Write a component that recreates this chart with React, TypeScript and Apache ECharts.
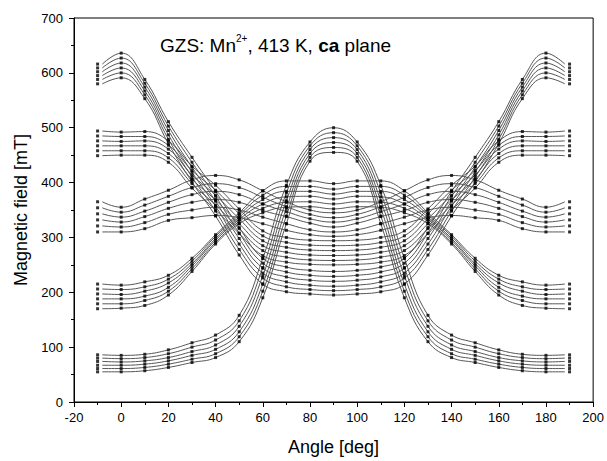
import React, { useEffect, useRef } from 'react';
import * as echarts from 'echarts';

// Line nodes (fitted curves) and measured points (dots) share value arrays by index.
const lineAngles = [-8, 0, 10, 20, 30, 40, 50, 60, 70, 80, 90, 100, 110, 120, 130, 140, 150, 160, 170, 180, 188];
const dotAngles = [-10, 0, 10, 20, 30, 40, 50, 60, 70, 80, 90, 100, 110, 120, 130, 140, 150, 160, 170, 180, 190];

const groupA = [
  [616, 636, 588, 511, 446, 384, 318, 262, 246, 240, 238, 240, 246, 262, 318, 384, 446, 511, 588, 636, 616],
  [609, 627, 581, 503, 437, 375, 308, 253, 237, 231, 229, 231, 237, 253, 308, 375, 437, 503, 581, 627, 609],
  [602, 618, 574, 495, 428, 366, 298, 244, 228, 222, 220, 222, 228, 244, 298, 366, 428, 495, 574, 618, 602],
  [595, 609, 567, 487, 419, 357, 288, 235, 219, 213, 211, 213, 219, 235, 288, 357, 419, 487, 567, 609, 595],
  [588, 600, 560, 479, 410, 348, 278, 226, 210, 205, 203, 205, 210, 226, 278, 348, 410, 479, 560, 600, 588],
  [580, 591, 553, 471, 401, 339, 268, 215, 201, 197, 195, 197, 201, 215, 268, 339, 401, 471, 553, 591, 580],
];
const groupB = [
  [494, 492, 493, 476, 430, 395, 352, 312, 300, 295, 294, 295, 300, 312, 352, 395, 430, 476, 493, 492, 494],
  [485, 484, 484, 468, 422, 386, 343, 303, 291, 286, 285, 286, 291, 303, 343, 386, 422, 468, 484, 484, 485],
  [476, 475, 476, 461, 414, 377, 334, 294, 282, 277, 276, 277, 282, 294, 334, 377, 414, 461, 476, 475, 476],
  [467, 467, 467, 453, 406, 368, 325, 285, 273, 268, 267, 268, 273, 285, 325, 368, 406, 453, 467, 467, 467],
  [458, 458, 458, 445, 398, 359, 316, 276, 264, 259, 258, 259, 264, 276, 316, 359, 398, 445, 458, 458, 458],
  [449, 450, 450, 437, 390, 350, 307, 267, 255, 251, 250, 251, 255, 267, 307, 350, 390, 437, 450, 450, 449],
];
const groupC = [
  [365, 355, 370, 386, 405, 413, 405, 385, 365, 350, 345, 350, 365, 385, 405, 413, 405, 386, 370, 355, 365],
  [354, 346, 359, 375, 391, 398, 391, 373, 356, 342, 336, 342, 356, 373, 391, 398, 391, 375, 359, 346, 354],
  [343, 337, 348, 364, 378, 384, 378, 361, 347, 334, 328, 334, 347, 361, 378, 384, 378, 364, 348, 337, 343],
  [332, 328, 338, 353, 364, 369, 364, 349, 338, 326, 319, 326, 338, 349, 364, 369, 364, 353, 338, 328, 332],
  [321, 319, 327, 342, 350, 355, 350, 337, 325, 314, 310, 314, 325, 337, 350, 355, 350, 342, 327, 319, 321],
  [310, 310, 316, 331, 336, 340, 336, 325, 313, 305, 302, 305, 313, 325, 336, 340, 336, 331, 316, 310, 310],
];
const groupD = [
  [215, 213, 219, 231, 262, 305, 345, 385, 403, 403, 398, 403, 403, 385, 345, 305, 262, 231, 219, 213, 215],
  [206, 205, 210, 224, 257, 302, 341, 377, 393, 393, 388, 393, 393, 377, 341, 302, 257, 224, 210, 205, 206],
  [197, 196, 202, 217, 252, 298, 337, 369, 384, 384, 379, 384, 384, 369, 337, 298, 252, 217, 202, 196, 197],
  [188, 188, 193, 209, 248, 295, 333, 361, 374, 375, 370, 375, 374, 361, 333, 295, 248, 209, 193, 188, 188],
  [179, 179, 185, 202, 243, 291, 329, 353, 364, 365, 361, 365, 364, 353, 329, 291, 243, 202, 185, 179, 179],
  [170, 171, 176, 195, 238, 288, 325, 345, 355, 356, 352, 356, 355, 345, 325, 288, 238, 195, 176, 171, 170],
];
const groupE = [
  [86, 85, 87, 95, 108, 122, 158, 262, 395, 474, 500, 474, 395, 262, 158, 122, 108, 95, 87, 85, 86],
  [80, 79, 81, 88, 100, 113, 148, 245, 381, 467, 491, 467, 381, 245, 148, 113, 100, 88, 81, 79, 80],
  [74, 73, 75, 81, 92, 104, 138, 230, 367, 460, 482, 460, 367, 230, 138, 104, 92, 81, 75, 73, 74],
  [67, 67, 69, 75, 85, 96, 128, 215, 353, 453, 473, 453, 353, 215, 128, 96, 85, 75, 69, 67, 67],
  [61, 61, 63, 69, 78, 88, 119, 202, 339, 446, 464, 446, 339, 202, 119, 88, 78, 69, 63, 61, 61],
  [55, 55, 57, 63, 72, 81, 110, 190, 325, 439, 455, 439, 325, 190, 110, 81, 72, 63, 57, 55, 55],
];

const FONT = '"Liberation Sans", Arial, Helvetica, sans-serif';

export default function App() {
  const ref = useRef<HTMLDivElement>(null);
  useEffect(() => {
    const chart = echarts.init(ref.current!, null, { renderer: 'svg' });
    const curves = [...groupA, ...groupB, ...groupC, ...groupD, ...groupE];
    const lineSeries = curves.map((vals) => ({
      type: 'line',
      data: lineAngles.map((a, i) => [a, vals[i]]),
      showSymbol: false,
      smooth: 0.45,
      silent: true,
      lineStyle: { color: '#555', width: 1 },
      z: 2,
    }));
    const dots: number[][] = [];
    curves.forEach((vals) => dotAngles.forEach((a, i) => dots.push([a, vals[i]])));

    chart.setOption({
      animation: false,
      backgroundColor: '#fff',
      grid: {
        left: 74, right: 11, top: 18, bottom: 59,
        show: true, borderColor: '#000', borderWidth: 1, backgroundColor: 'transparent',
      },
      xAxis: {
        type: 'value', min: -20, max: 200, interval: 20,
        name: 'Angle [deg]', nameLocation: 'middle', nameGap: 36,
        nameTextStyle: { fontFamily: FONT, fontSize: 18, color: '#000' },
        axisLine: { show: true, onZero: false, lineStyle: { color: '#000', width: 1 } },
        axisTick: { show: true, length: 5, lineStyle: { color: '#000' } },
        minorTick: { show: true, splitNumber: 2, length: 3, lineStyle: { color: '#000' } },
        splitLine: { show: false },
        axisLabel: { color: '#000', fontFamily: FONT, fontSize: 13, margin: 9 },
      },
      yAxis: {
        type: 'value', min: 0, max: 700, interval: 100,
        name: 'Magnetic field [mT]', nameLocation: 'middle', nameGap: 43,
        nameTextStyle: { fontFamily: FONT, fontSize: 18, color: '#000' },
        axisLine: { show: true, onZero: false, lineStyle: { color: '#000', width: 1 } },
        axisTick: { show: true, length: 5, lineStyle: { color: '#000' } },
        minorTick: { show: true, splitNumber: 2, length: 3, lineStyle: { color: '#000' } },
        splitLine: { show: false },
        axisLabel: { color: '#000', fontFamily: FONT, fontSize: 13, margin: 11 },
      },
      graphic: [
        {
          type: 'text',
          x: 160,
          y: 45,
          style: {
            text: '{n|GZS: Mn}{s|2+}{n|, 413 K, }{b|ca}{n| plane}',
            verticalAlign: 'middle',
            fill: '#000',
            font: `19px ${FONT}`,
            rich: {
              n: { fontSize: 19, lineHeight: 23, fontFamily: FONT, fill: '#000' },
              s: { fontSize: 10, lineHeight: 14, verticalAlign: 'top', fontFamily: FONT, fill: '#000' },
              b: { fontSize: 19, lineHeight: 23, fontWeight: 'bold', fontFamily: FONT, fill: '#000' },
            },
          },
          z: 10,
        },
      ],
      series: [
        ...lineSeries,
        {
          type: 'scatter',
          data: dots,
          symbol: 'rect',
          symbolSize: 3,
          silent: true,
          itemStyle: { color: '#000' },
          z: 3,
        },
      ],
    });
    return () => chart.dispose();
  }, []);
  return <div ref={ref} style={{ position: 'fixed', left: 0, top: 0, width: 607, height: 461 }} />;
}
